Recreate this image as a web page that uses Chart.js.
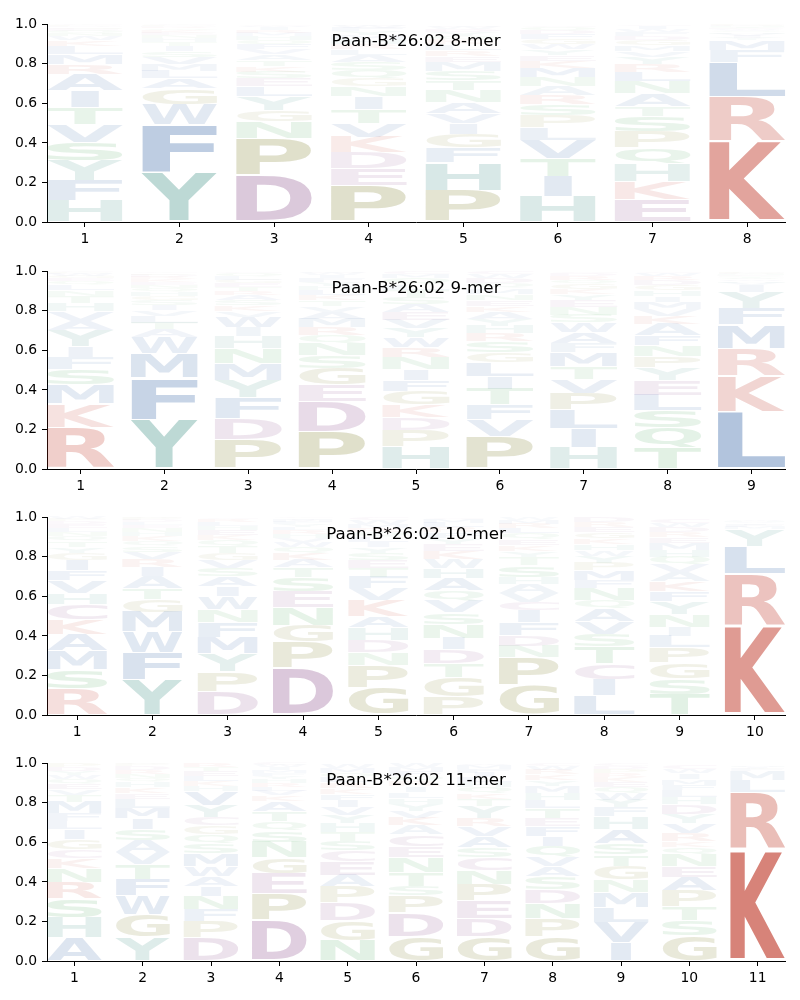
<!DOCTYPE html>
<html>
<head>
<meta charset="utf-8">
<script src="https://cdn.jsdelivr.net/npm/chart.js@4.4.1/dist/chart.umd.min.js"></script>
<style>
  body { margin: 0; background: #fff; width: 800px; height: 1000px; position: relative; overflow: hidden; }
  canvas { position: absolute; left: 0; }
</style>
</head>
<body>
<canvas id="c8" width="800" height="246" style="top:11px"></canvas>
<canvas id="c9" width="800" height="246" style="top:258px"></canvas>
<canvas id="c10" width="800" height="246" style="top:504px"></canvas>
<canvas id="c11" width="800" height="246" style="top:750px"></canvas>
<script>
// letters of each position, bottom to top, and their heights
const letters8 = [
  "HFYSVTIARMLKWNQEGDPC", "YFWGALMVSITHNEKQRDPC", "DPNGYLESKTAVFQHMRIWC", "PEDKVTINGQSALRHMYFWC",
  "PHFGIVANTSMERLKQYDWC", "HITVLPSRANMKEYWGFDQC", "EKHQPSTANLRYVMGDFWIC", "KRLFMYIVHQAWESTNGDPC"
];
const freq8 = [
  [.11, .10, .10, .095, .09, .085, .085, .085, .05, .05, .04, .03, .02, .015, .012, .01, .008, .006, .004, .003],
  [.25, .245, .10, .08, .05, .04, .035, .035, .03, .025, .022, .018, .015, .013, .012, .01, .008, .005, .004, .003],
  [.235, .19, .085, .055, .07, .05, .04, .035, .03, .03, .028, .025, .025, .022, .02, .018, .015, .012, .008, .005],
  [.185, .085, .08, .08, .07, .07, .065, .05, .04, .045, .04, .035, .03, .025, .025, .02, .02, .018, .01, .007],
  [.16, .14, .075, .07, .055, .05, .055, .06, .05, .05, .045, .03, .03, .028, .025, .02, .02, .015, .01, .007],
  [.13, .10, .09, .095, .065, .06, .055, .045, .045, .045, .05, .035, .03, .03, .025, .025, .025, .02, .015, .01],
  [.115, .09, .09, .08, .08, .08, .05, .065, .06, .05, .04, .035, .03, .03, .025, .02, .02, .015, .015, .01],
  [.41, .225, .175, .06, .05, .012, .01, .01, .008, .006, .005, .004, .004, .004, .003, .003, .003, .003, .003, .002]
];

const letters9 = [
  "RKMSFIYAVHTNLQEGWDPC", "YFMWATLVISGHQNEKRDPC", "PDFYMNHIWVKSARTEGLQC", "PDEGSNQRMAVTKLHYFIWC",
  "HPDKGFINRWYVEASTLQMC", "PVFTILGSRHYAKENMQDWC", "HILPVTMFAWSNEYKGQRDC", "TQSLEYPNFAKVMIHGDRWC",
  "LKRMFYIVHWQATSENGDPC"
];
const freq9 = [
  [.21, .12, .095, .08, .06, .055, .08, .05, .05, .04, .035, .03, .025, .02, .015, .012, .01, .006, .004, .003],
  [.25, .21, .125, .08, .04, .035, .035, .03, .025, .025, .02, .02, .02, .015, .015, .015, .012, .01, .008, .005],
  [.15, .105, .105, .09, .085, .075, .06, .045, .055, .03, .028, .025, .025, .022, .02, .02, .018, .018, .015, .009],
  [.19, .15, .085, .085, .065, .06, .04, .04, .045, .035, .03, .03, .025, .025, .02, .02, .02, .015, .01, .01],
  [.115, .08, .065, .065, .07, .055, .055, .06, .05, .05, .045, .045, .04, .04, .035, .035, .03, .03, .02, .015],
  [.165, .085, .075, .08, .065, .07, .05, .055, .04, .04, .035, .035, .03, .03, .03, .03, .025, .025, .02, .015],
  [.11, .095, .095, .085, .07, .065, .07, .045, .055, .05, .04, .04, .035, .03, .025, .025, .02, .02, .015, .01],
  [.11, .10, .085, .08, .075, .065, .055, .055, .05, .06, .04, .035, .035, .03, .03, .025, .025, .02, .015, .01],
  [.29, .18, .14, .12, .085, .08, .035, .012, .008, .008, .005, .005, .004, .004, .004, .004, .003, .003, .003, .003]
];

const letters10 = [
  "RSMAKCHVFIGYTQNLEDPW", "YFWMGTAIRVSQKHNELDPC", "DPYMFNWIASVGTQKEHLRC", "DPGNESTAKQWVHRLYFMIC",
  "GPNDHAKVFTESYILQRMWC", "PGTDINSVQAHWKEYFRLMC", "GPNDFICVAHSTYKEQLRMW", "LICTSVAQNFMPYWHKGERD",
  "TSGPLINYFKAVQHMERDWC", "KRLYMFIVHWQASTNEGDPC"
];
const freq10 = [
  [.135, .095, .095, .085, .075, .075, .055, .065, .05, .055, .035, .03, .03, .025, .02, .02, .02, .015, .01, .01],
  [.18, .135, .105, .10, .065, .055, .06, .05, .04, .035, .03, .025, .025, .02, .02, .015, .015, .01, .01, .005],
  [.12, .10, .09, .085, .075, .065, .065, .05, .05, .045, .04, .035, .035, .03, .025, .025, .02, .02, .015, .01],
  [.24, .13, .085, .09, .08, .07, .05, .04, .035, .03, .025, .02, .02, .02, .015, .015, .012, .01, .008, .005],
  [.14, .11, .065, .063, .063, .058, .08, .06, .06, .045, .04, .035, .03, .025, .025, .025, .02, .02, .02, .016],
  [.09, .10, .07, .07, .06, .07, .058, .06, .05, .065, .05, .045, .04, .035, .03, .03, .025, .025, .02, .007],
  [.15, .14, .06, .055, .063, .06, .045, .045, .045, .035, .06, .04, .03, .03, .03, .03, .025, .025, .02, .012],
  [.10, .08, .08, .085, .065, .065, .065, .04, .06, .04, .05, .04, .035, .03, .03, .03, .03, .025, .025, .025],
  [.105, .08, .08, .075, .06, .045, .065, .065, .05, .05, .045, .04, .04, .035, .035, .03, .025, .025, .02, .02],
  [.45, .265, .14, .085, .012, .01, .008, .005, .004, .003, .003, .002, .002, .002, .002, .002, .002, .001, .001, .001]
];

const letters11 = [
  "AHSRNKCGILFMTVEQWYDP", "YGWFTVASIMLEKHQNRDPC", "DPFNIAWMSQGCYVHKLETR", "DPEGNSQTAKVLRHYFMIWC",
  "NGDPAECSTHYVIFKRLQMW", "GDPSTNECAKVYHLIRQFMW", "GDEPNCSAVRYTKQHLIFMW", "GPNDSAVQIFETLHMYKRWC",
  "IVLMNGTSAHFYWQEKRPDC", "GSTPAENQKRVYDHLFMIWC", "KRLMFYIVHQWASTNEGDPC"
];
const freq11 = [
  [.12, .10, .095, .085, .07, .05, .045, .05, .05, .04, .04, .06, .035, .03, .025, .025, .02, .02, .02, .02],
  [.12, .115, .095, .085, .075, .06, .06, .055, .055, .055, .045, .03, .03, .025, .02, .02, .02, .02, .01, .005],
  [.12, .08, .06, .07, .05, .05, .05, .065, .05, .045, .045, .04, .065, .07, .025, .025, .025, .025, .02, .02],
  [.205, .135, .10, .082, .08, .06, .045, .05, .05, .03, .025, .02, .02, .02, .015, .015, .015, .012, .01, .011],
  [.105, .10, .09, .08, .06, .068, .055, .05, .045, .045, .04, .04, .035, .03, .03, .03, .025, .025, .025, .022],
  [.125, .12, .085, .05, .07, .075, .055, .06, .045, .04, .035, .035, .03, .03, .03, .025, .025, .025, .02, .02],
  [.125, .09, .09, .085, .07, .065, .05, .058, .05, .04, .06, .035, .03, .03, .025, .025, .025, .02, .02, .007],
  [.125, .09, .078, .07, .065, .05, .05, .055, .05, .05, .04, .05, .04, .035, .035, .03, .03, .025, .02, .012],
  [.095, .10, .075, .075, .065, .07, .058, .058, .07, .065, .045, .04, .035, .03, .025, .025, .02, .02, .015, .014],
  [.13, .075, .07, .08, .07, .055, .062, .035, .03, .04, .05, .045, .05, .035, .035, .03, .03, .03, .02, .018],
  [.565, .29, .06, .045, .01, .006, .004, .003, .003, .002, .002, .002, .002, .001, .001, .001, .001, .001, .001, .001]
];

const titles = ["Paan-B*26:02 8-mer", "Paan-B*26:02 9-mer", "Paan-B*26:02 10-mer", "Paan-B*26:02 11-mer"];
const yTicks = [0, 0.2, 0.4, 0.6, 0.8, 1.0];

// colour groups (rgb), opacity follows letter height
const COLORS = {};
"KR".split("").forEach(a => COLORS[a] = "186,41,24");
"DEC".split("").forEach(a => COLORS[a] = "113,38,113");
"PG".split("").forEach(a => COLORS[a] = "102,102,0");
"HY".split("").forEach(a => COLORS[a] = "7,111,99");
"AVILMFW".split("").forEach(a => COLORS[a] = "3,62,144");
"STNQ".split("").forEach(a => COLORS[a] = "20,140,40");

const AMINO = "ACDEFGHIKLMNPQRSTVWY";
const VPAD = 0.05;

function buildDatasets(letters, freqs) {
  return AMINO.split("").map(aa => {
    const data = [];
    letters.forEach((s, i) => {
      let floor = 0;
      for (let j = 0; j < s.length; j++) {
        const h = freqs[i][j];
        if (s[j] === aa) data.push({ x: i + 1, y: [floor, floor + h] });
        floor += h;
      }
    });
    return {
      label: aa, data: data,
      backgroundColor: "rgba(0,0,0,0)", borderWidth: 0,
      grouped: false, barPercentage: 0.8, categoryPercentage: 1
    };
  });
}

// draws each letter stretched into its bar box
const logoPlugin = {
  id: "logo",
  afterDatasetsDraw(chart) {
    const ctx = chart.ctx;
    ctx.save();
    ctx.font = "bold 100px 'DejaVu Sans'";
    ctx.textAlign = "left";
    ctx.textBaseline = "alphabetic";
    const mE = ctx.measureText("E");
    const eW = mE.actualBoundingBoxLeft + mE.actualBoundingBoxRight;
    chart.data.datasets.forEach((ds, di) => {
      const meta = chart.getDatasetMeta(di);
      const m = ctx.measureText(ds.label);
      const inkW = m.actualBoundingBoxLeft + m.actualBoundingBoxRight;
      const inkH = m.actualBoundingBoxAscent + m.actualBoundingBoxDescent;
      meta.data.forEach((bar, k) => {
        const p = bar.getProps(["x", "y", "base", "width"], true);
        const h = ds.data[k].y[1] - ds.data[k].y[0];
        const top = Math.min(p.y, p.base), bot = Math.max(p.y, p.base);
        const pad = (bot - top) * VPAD / 2;
        const boxH = bot - top - 2 * pad;
        if (boxH <= 0) return;
        const sx = Math.min(p.width / inkW, p.width / eW);
        const sy = boxH / inkH;
        ctx.save();
        ctx.translate(p.x, bot - pad);
        ctx.scale(sx, sy);
        ctx.fillStyle = "rgba(" + COLORS[ds.label] + "," + Math.min(1, h + 0.015) + ")";
        ctx.fillText(ds.label, -(m.actualBoundingBoxRight - m.actualBoundingBoxLeft) / 2, -m.actualBoundingBoxDescent);
        ctx.restore();
      });
    });
    ctx.restore();
  }
};

const titlePlugin = {
  id: "innerTitle",
  afterDraw(chart) {
    const a = chart.chartArea;
    const ctx = chart.ctx;
    ctx.save();
    ctx.font = "16.7px 'DejaVu Sans'";
    ctx.fillStyle = "#000";
    ctx.textAlign = "center";
    ctx.textBaseline = "alphabetic";
    ctx.fillText(chart.options.plugins.innerTitle.text, (a.left + a.right) / 2, a.top + 22);
    ctx.restore();
  }
};

function makeLogo(id, letters, freqs, title) {
  const n = letters.length;
  const tickFont = { family: "'DejaVu Sans'", size: 13.9 };
  new Chart(document.getElementById(id), {
    type: "bar",
    data: { datasets: buildDatasets(letters, freqs) },
    options: {
      responsive: false,
      animation: false,
      layout: { padding: { left: 0, right: 15, top: 10, bottom: 0 } },
      plugins: { legend: { display: false }, tooltip: { enabled: false }, innerTitle: { text: title } },
      scales: {
        x: {
          type: "linear", min: 0.6, max: n + 0.4, offset: false,
          grid: { drawOnChartArea: false, offset: false, tickLength: 5, color: "#000" },
          border: { display: true, color: "#000", width: 1 },
          ticks: { stepSize: 1, includeBounds: false, color: "#000", font: tickFont, padding: 4, maxRotation: 0 },
          afterFit: s => { s.height = 35; }
        },
        y: {
          min: 0, max: 1,
          grid: { drawOnChartArea: false, tickLength: 5, color: "#000" },
          border: { display: true, color: "#000", width: 1 },
          ticks: { stepSize: 0.2, color: "#000", font: tickFont, padding: 5, callback: v => v.toFixed(1) },
          afterBuildTicks: s => { s.ticks = yTicks.map(v => ({ value: v })); },
          afterFit: s => { s.width = 47; }
        }
      }
    },
    plugins: [logoPlugin, titlePlugin]
  });
}

makeLogo("c8", letters8, freq8, titles[0]);
makeLogo("c9", letters9, freq9, titles[1]);
makeLogo("c10", letters10, freq10, titles[2]);
makeLogo("c11", letters11, freq11, titles[3]);
</script>
</body>
</html>
